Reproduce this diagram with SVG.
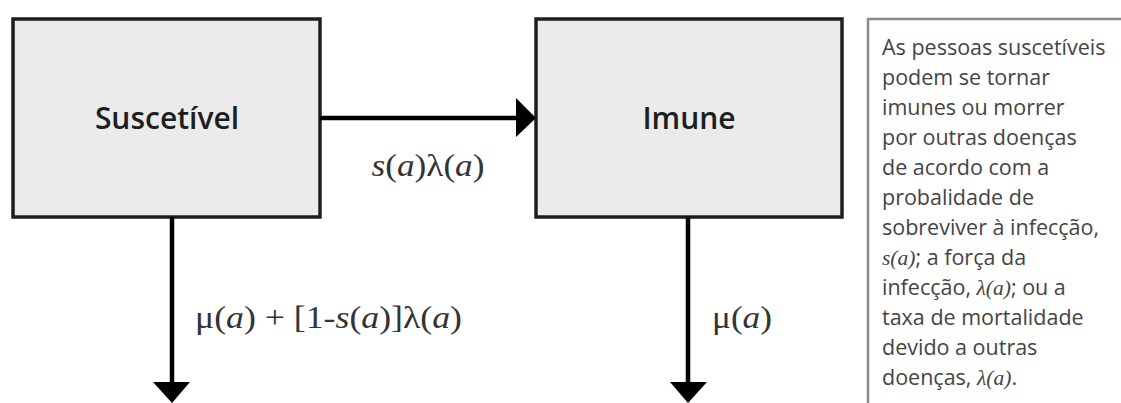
<svg xmlns="http://www.w3.org/2000/svg" width="1121" height="403" viewBox="0 0 1121 403">
<style>
.node{fill:#ebebeb;stroke:#1e1e1e;stroke-width:3.5}
.title{font-family:"Open Sans","Liberation Sans",sans-serif;font-weight:600;font-size:30px;fill:#1e1e1e;text-anchor:middle}
.edge{stroke:#000;stroke-width:4.5;fill:none}
.head{fill:#000}
.math{font-family:"Liberation Serif","DejaVu Serif",serif;font-size:32px;fill:#333}
.it{font-style:italic}
.note{font-family:"Open Sans","Liberation Sans",sans-serif;font-size:21.5px;fill:#444}
.noteit{font-family:"Liberation Serif",serif;font-style:italic;font-size:21.5px}
</style>
<rect width="1121" height="403" fill="#fff"/>
<g id="suscetivel">
<rect class="node" x="13" y="19" width="307" height="198"/>
<text class="title" x="167" y="129">Suscetível</text>
</g>
<g id="imune">
<rect class="node" x="536" y="19" width="306" height="198"/>
<text class="title" x="689" y="129">Imune</text>
</g>
<g id="connectors">
<line class="edge" x1="320" y1="118" x2="518" y2="118"/>
<polygon class="head" points="516,98 536,118 516,137"/>
<text class="math" x="428" y="176" text-anchor="middle" textLength="113" lengthAdjust="spacingAndGlyphs"><tspan class="it">s</tspan>(<tspan class="it">a</tspan>)λ(<tspan class="it">a</tspan>)</text>
<line class="edge" x1="172" y1="217" x2="172" y2="385"/>
<polygon class="head" points="153,382 190,382 172,403"/>
<text class="math" x="195" y="328" textLength="267" lengthAdjust="spacingAndGlyphs">μ(<tspan class="it">a</tspan>) + [1-<tspan class="it">s</tspan>(<tspan class="it">a</tspan>)]λ(<tspan class="it">a</tspan>)</text>
<line class="edge" x1="688" y1="217" x2="688" y2="385"/>
<polygon class="head" points="670,382 707,382 688,403"/>
<text class="math" x="712" y="328" textLength="60" lengthAdjust="spacingAndGlyphs">μ(<tspan class="it">a</tspan>)</text>
</g>
<g id="nota">
<path d="M1125,19 H868 V410" fill="none" stroke="#8a8a8a" stroke-width="2.5"/>
<text class="note" x="882">
<tspan x="882" y="55">As pessoas suscetíveis</tspan>
<tspan x="882" y="85">podem se tornar</tspan>
<tspan x="882" y="115">imunes ou morrer</tspan>
<tspan x="882" y="145">por outras doenças</tspan>
<tspan x="882" y="175">de acordo com a</tspan>
<tspan x="882" y="205">probalidade de</tspan>
<tspan x="882" y="235">sobreviver à infecção,</tspan>
<tspan x="882" y="265"><tspan class="noteit">s(a)</tspan>; a força da</tspan>
<tspan x="882" y="295">infecção, <tspan class="noteit">λ(a)</tspan>; ou a</tspan>
<tspan x="882" y="325">taxa de mortalidade</tspan>
<tspan x="882" y="355">devido a outras</tspan>
<tspan x="882" y="385">doenças, <tspan class="noteit">λ(a)</tspan>.</tspan>
</text>
</g>
</svg>
